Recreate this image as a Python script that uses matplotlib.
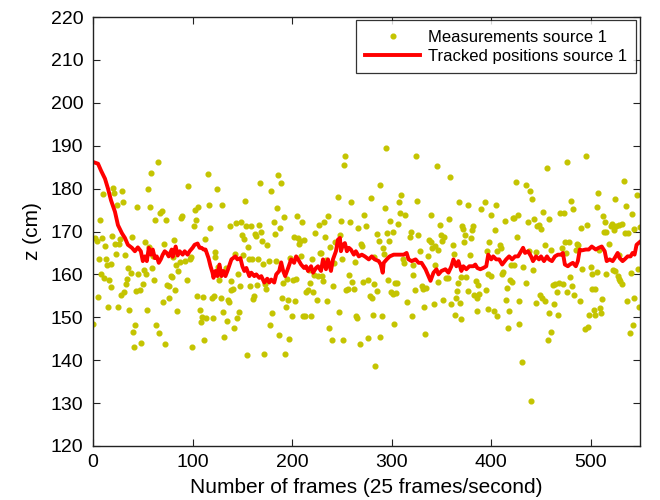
import matplotlib
matplotlib.use("Agg")
import matplotlib.pyplot as plt

plt.rcParams["font.family"] = ["Liberation Sans", "DejaVu Sans"]

meas_frame = [
    0, 2, 4, 7, 9, 10, 6, 8, 5, 11, 12, 13, 14, 15, 16, 18, 18, 19, 20, 21,
    22, 23, 24, 25, 26, 27, 28, 29, 30, 31, 32, 33, 34, 35, 36, 38, 39, 40, 41, 42,
    43, 44, 45, 47, 48, 50, 51, 52, 53, 54, 55, 56, 57, 58, 59, 60, 61, 62, 63, 65,
    66, 67, 69, 70, 71, 72, 73, 74, 76, 76, 78, 79, 80, 81, 82, 83, 84, 85, 87, 88,
    89, 92, 94, 95, 97, 98, 99, 101, 102, 103, 105, 104, 107, 108, 109, 110, 111, 112, 113, 115,
    116, 117, 119, 120, 121, 122, 123, 125, 126, 127, 129, 130, 131, 132, 134, 135, 136, 137,
    # 138 .. 272
    139, 138, 139, 141, 142, 143, 144, 145, 146, 147, 148, 149, 150, 151, 152, 153, 154, 155, 156, 157,
    158, 159, 160, 161, 162, 163, 164, 165, 166, 167, 168, 169, 170, 171, 172, 173, 174, 175, 177, 178,
    179, 180, 182, 183, 184, 185, 186, 187, 188, 189, 190, 191, 192, 193, 194, 195, 196, 197, 198, 200,
    201, 202, 203, 204, 205, 206, 207, 208, 209, 210, 211, 212, 213, 214, 216, 217, 218, 219, 220, 221,
    222, 223, 225, 226, 227, 228, 229, 230, 231, 232, 233, 234, 235, 236, 237, 238, 240, 241, 242, 243,
    246, 247, 248, 249, 250, 251, 252, 253, 254, 256, 257, 258, 259, 260, 262, 263, 264, 265, 266, 268,
    269, 270, 271, 272,
    # 273 .. 408
    294, 324, 346, 359, 288, 309, 279, 307, 325, 293, 308, 313, 368, 377, 390, 394, 405, 339, 358, 400,
    298, 274, 306, 349, 371, 382, 404, 372, 381, 285, 295, 301, 319, 326, 318, 374, 350, 353, 337, 380,
    287, 297, 339, 351, 373, 398, 291, 344, 341, 347, 362, 328, 396, 406, 336, 311, 379, 363, 292, 282,
    321, 344, 312, 397, 400, 321, 355, 357, 370, 375, 296, 276, 282, 303, 305, 330, 331, 334, 347, 367,
    385, 387, 285, 299, 301, 304, 323, 366, 377, 383, 388, 395, 278, 280, 365, 386, 315, 352, 332, 343,
    360, 369, 397, 403, 386, 406, 281, 290, 320, 364, 370, 302, 333, 288, 276, 283,
    # 409 .. 549
    495, 476, 456, 533, 425, 435, 439, 546, 441, 524, 480, 507, 535, 506, 482, 452, 469, 473, 541, 427,
    423, 422, 512, 443, 458, 414, 437, 514, 521, 520, 525, 528, 531, 446, 448, 450, 490, 496, 543, 549,
    513, 515, 523, 534, 537, 426, 474, 478, 486, 487, 454, 409, 410, 518, 471, 460, 485, 508, 438, 445,
    475, 528, 432, 420, 423, 491, 500, 442, 522, 524, 527, 501, 506, 547, 540, 412, 411, 479, 515, 528,
    419, 421, 529, 531, 435, 462, 464, 468, 472, 481, 416, 501, 504, 466, 476, 483, 449, 451, 454, 415,
    428, 445, 489, 511, 536, 543, 463, 548, 418, 458, 467, 498, 504, 503, 509, 510, 417, 428, 494, 497,
    542, 460, 457, 539, 431, 440,
]
meas_z = [
    148.5, 168.5, 167.7, 172.7, 168.5, 178.7, 163.5, 160.2, 154.8, 159.2, 166.7, 163.5, 162.3, 152.3, 158.6, 157.1, 162.5, 169.0, 180.2, 179.0,
    167.1, 164.8, 176.2, 152.5, 167.1, 168.3, 155.2, 179.4, 176.8, 156.0, 164.6, 157.8, 159.0, 161.4, 151.7, 160.4, 168.8, 146.5, 143.0, 148.1,
    156.1, 175.8, 160.0, 156.3, 144.1, 157.7, 161.0, 167.5, 160.2, 151.7, 179.8, 166.4, 175.8, 183.7, 161.5, 164.2, 158.8, 172.7, 148.1, 186.3,
    146.3, 174.4, 174.8, 153.5, 167.2, 143.8, 172.7, 157.5, 157.2, 154.4, 159.6, 159.3, 164.0, 168.1, 156.4, 162.3, 151.5, 160.8, 162.9, 173.1,
    173.5, 163.1, 158.8, 180.6, 163.5, 164.0, 143.1, 171.3, 175.1, 172.6, 175.6, 155.0, 151.7, 149.0, 150.1, 154.8, 144.6, 168.3, 149.9, 183.5,
    176.2, 170.8, 154.6, 149.8, 155.0, 164.1, 165.2, 180.0, 161.8, 158.8, 154.5, 176.1, 151.2, 145.4, 161.4, 149.2, 154.0, 153.6,
    158.5, 171.3, 156.4, 156.5, 147.5, 164.7, 171.9, 149.8, 160.0, 151.2, 157.3, 172.1, 169.2, 164.6, 168.3, 177.1, 171.2, 141.2, 166.5, 163.5,
    157.2, 171.3, 163.6, 154.2, 155.0, 169.4, 169.0, 157.5, 163.7, 171.5, 181.2, 170.0, 167.9, 162.5, 141.4, 157.7, 156.5, 166.9, 163.1, 148.1,
    179.5, 151.0, 172.1, 169.5, 163.1, 175.5, 183.1, 145.9, 170.7, 181.4, 154.6, 157.9, 173.3, 141.5, 152.5, 159.0, 154.0, 145.0, 163.8, 150.2,
    158.8, 168.8, 153.8, 159.0, 173.6, 168.6, 167.2, 167.7, 164.2, 172.3, 150.2, 168.1, 150.2, 155.9, 156.4, 161.0, 158.1, 150.2, 163.5, 155.9,
    159.8, 169.6, 154.1, 159.6, 171.5, 165.0, 165.0, 159.6, 158.5, 172.3, 168.7, 163.3, 153.8, 173.6, 147.5, 166.5, 144.6, 157.2, 162.7, 167.5,
    178.1, 151.3, 169.2, 172.5, 163.5, 144.8, 185.5, 187.5, 156.4, 156.5, 159.8, 172.3, 176.8, 158.3, 156.7, 162.8, 150.2, 149.8, 170.8, 143.8,
    167.2, 166.7, 158.3, 173.8,
    189.5, 187.6, 185.2, 182.8, 180.8, 178.6, 177.8, 176.8, 177.1, 175.5, 174.4, 173.8, 176.8, 176.1, 175.2, 176.8, 176.1, 173.8, 173.0, 173.8,
    172.5, 171.3, 171.8, 171.5, 171.3, 171.2, 170.4, 170.5, 170.4, 169.5, 169.6, 169.9, 170.0, 169.2, 168.8, 169.2, 169.2, 168.7, 168.1, 168.4,
    167.8, 167.9, 167.6, 167.8, 167.5, 167.5, 166.2, 166.7, 166.1, 165.6, 166.8, 165.5, 165.5, 165.5, 164.2, 163.5, 164.6, 164.7, 164.8, 164.1,
    162.1, 162.3, 162.7, 160.0, 159.6, 159.8, 159.2, 159.2, 159.5, 159.3, 158.8, 158.7, 157.8, 158.1, 158.0, 157.3, 156.7, 156.9, 158.2, 157.9,
    158.4, 157.6, 156.2, 155.8, 155.4, 155.6, 156.4, 156.2, 156.2, 155.2, 155.4, 156.4, 155.0, 154.4, 154.6, 154.6, 153.5, 154.1, 152.5, 153.0,
    153.0, 153.3, 151.9, 151.5, 151.4, 150.2, 150.5, 150.2, 150.2, 150.6, 149.6, 148.4, 146.1, 145.5, 145.2, 138.7,
    187.7, 186.2, 184.8, 181.8, 181.5, 180.8, 179.4, 178.6, 177.6, 177.5, 177.1, 179.0, 176.0, 175.6, 175.2, 174.5, 174.2, 174.4, 174.1, 173.9,
    173.2, 173.2, 173.7, 173.0, 172.8, 172.5, 172.2, 172.3, 171.8, 171.3, 171.2, 171.5, 171.7, 171.3, 171.5, 170.5, 170.7, 171.5, 170.5, 171.0,
    169.8, 169.8, 170.3, 169.6, 169.6, 168.8, 167.6, 167.5, 167.2, 166.8, 166.8, 166.8, 166.2, 167.2, 166.2, 165.8, 165.8, 165.6, 165.4, 165.2,
    165.0, 164.6, 161.7, 162.2, 162.1, 161.3, 161.8, 161.0, 161.0, 160.7, 159.7, 160.2, 160.5, 161.3, 160.4, 160.5, 160.2, 159.4, 160.2, 159.0,
    158.8, 158.2, 158.4, 157.8, 157.9, 157.6, 157.7, 157.9, 157.8, 157.3, 156.8, 156.5, 156.5, 156.0, 155.8, 155.3, 155.2, 154.4, 153.8, 154.1,
    153.7, 153.3, 153.8, 154.2, 153.8, 154.5, 153.0, 152.5, 151.5, 150.9, 150.5, 150.5, 150.5, 151.8, 152.2, 151.1, 147.6, 148.4, 147.2, 147.7,
    148.1, 146.5, 144.6, 146.4, 139.6, 130.4,
]

# ---- tracked positions (frame, z in cm) ----
track_frame = [
    0, 5, 8, 12, 15, 18, 22, 25, 29, 32, 35, 39, 42, 45, 48, 50, 52, 54, 56, 58,
    60, 62, 64, 66, 68, 70, 72, 74, 76, 79, 80, 83, 85, 87, 90, 92, 95, 97, 100, 102,
    105, 107, 109, 111, 113, 116, 118, 120, 121, 123, 125, 127, 129, 131, 133, 135, 139, 143, 145, 148,
    150, 152, 154, 157, 159, 162, 164, 167, 169, 172, 175, 177, 179, 182, 184, 187, 189, 191, 193, 196,
    199, 202, 204, 206, 209, 212, 214, 216, 219, 221, 224, 226, 229, 231, 234, 236, 239, 241, 244, 246,
    248, 249, 251, 253, 255, 257, 259, 262, 264, 267, 270, 273, 277, 280, 283, 287, 289, 291, 292, 295,
    298, 302, 305, 308, 312, 315, 317, 320, 324, 327, 330, 334, 337, 339, 342, 345, 347, 350, 354, 357,
    360, 362, 365, 367, 370, 372, 375, 378, 382, 384, 386, 389, 392, 395, 397, 400, 402, 405, 408, 411,
    415, 418, 421, 424, 427, 429, 432, 434, 437, 440, 442, 445, 448, 450, 453, 456, 458, 461, 464, 467,
    470, 472, 474, 477, 479, 482, 485, 487, 489, 491, 495, 498, 501, 505, 508, 511, 514, 516, 519, 522,
    524, 527, 529, 532, 534, 537, 540, 542, 544, 546, 549,
]
track_z = [
    186.2, 185.8, 184.2, 182.3, 180.0, 177.3, 174.6, 171.5, 169.6, 168.5, 166.9, 166.2, 165.4, 166.3, 165.4, 163.1, 164.2, 163.1, 166.2, 164.6,
    165.8, 163.8, 164.2, 162.7, 163.5, 164.6, 165.4, 165.0, 164.2, 165.8, 164.1, 166.5, 164.4, 165.4, 164.6, 165.4, 164.6, 165.4, 166.2, 166.9,
    167.2, 166.2, 166.2, 165.8, 165.8, 163.8, 161.9, 160.4, 159.2, 160.8, 159.6, 162.3, 159.6, 160.8, 159.6, 160.8, 163.5, 164.2, 163.5, 163.8,
    161.9, 160.8, 161.5, 159.6, 160.4, 159.6, 160.0, 159.2, 159.6, 158.1, 159.0, 158.1, 158.8, 158.1, 160.0, 160.8, 162.8, 160.8, 159.6, 161.5,
    163.5, 162.7, 164.2, 163.5, 162.3, 161.5, 161.9, 160.8, 161.9, 160.4, 161.5, 161.9, 160.8, 163.5, 161.2, 163.5, 160.8, 163.5, 165.4, 168.1,
    168.5, 165.4, 166.9, 167.3, 165.4, 166.2, 165.8, 164.6, 165.4, 164.2, 164.6, 164.2, 163.5, 164.2, 163.5, 163.1, 162.3, 160.4, 162.7, 163.5,
    164.2, 164.6, 164.6, 164.6, 164.6, 165.0, 163.5, 163.1, 163.5, 162.7, 162.7, 161.2, 159.6, 158.5, 160.4, 161.2, 160.0, 160.8, 161.2, 160.4,
    161.9, 163.5, 161.9, 163.1, 160.8, 161.9, 161.2, 161.9, 161.9, 162.3, 161.5, 161.2, 161.5, 161.9, 164.6, 163.5, 164.2, 163.5, 163.5, 162.3,
    163.5, 164.2, 163.5, 164.2, 164.2, 165.0, 166.2, 165.0, 165.4, 164.2, 163.1, 164.2, 163.5, 164.2, 163.1, 164.2, 163.5, 163.1, 164.2, 164.6,
    164.6, 165.0, 162.3, 161.9, 162.3, 162.7, 161.9, 163.1, 165.8, 165.6, 165.8, 165.8, 166.5, 165.8, 166.2, 166.5, 165.4, 163.1, 163.5, 163.1,
    163.8, 165.0, 163.8, 163.1, 163.5, 164.2, 164.2, 165.0, 164.6, 166.9, 167.5,
]

fig = plt.figure(figsize=(6.6, 5.0), dpi=100)
ax = fig.add_axes([0.141, 0.108, 0.828, 0.858])

ax.plot(meas_frame, meas_z, linestyle="none", marker="o", markersize=3.4,
        markerfacecolor="#c4c400", markeredgecolor="#c4c400",
        label="Measurements source 1")
ax.plot(track_frame, track_z, color="#ff0000", linewidth=2.8,
        label="Tracked positions source 1")

ax.set_xlim(0, 549)
ax.set_ylim(120, 220)
ax.set_xticks([0, 100, 200, 300, 400, 500])
ax.set_yticks(range(120, 221, 10))
ax.tick_params(direction="in", top=True, right=True, length=5, width=0.8,
               labelsize=14, colors="#222222", labelcolor="black")
ax.tick_params(axis="x", pad=6)
ax.tick_params(axis="y", pad=7)
for s in ax.spines.values():
    s.set_linewidth(1.0)
    s.set_color("#222222")

ax.set_xlabel("Number of frames (25 frames/second)", fontsize=15, labelpad=5)
ax.set_ylabel("z (cm)", fontsize=15, labelpad=6)

leg = ax.legend(loc="upper right", fontsize=12, frameon=True, fancybox=False,
                borderaxespad=0.2, handlelength=3.3, borderpad=0.55,
                labelspacing=0.25, handletextpad=0.45)
leg.get_frame().set_edgecolor("black")
leg.get_frame().set_linewidth(0.9)

fig.savefig("out.png", dpi=100)
